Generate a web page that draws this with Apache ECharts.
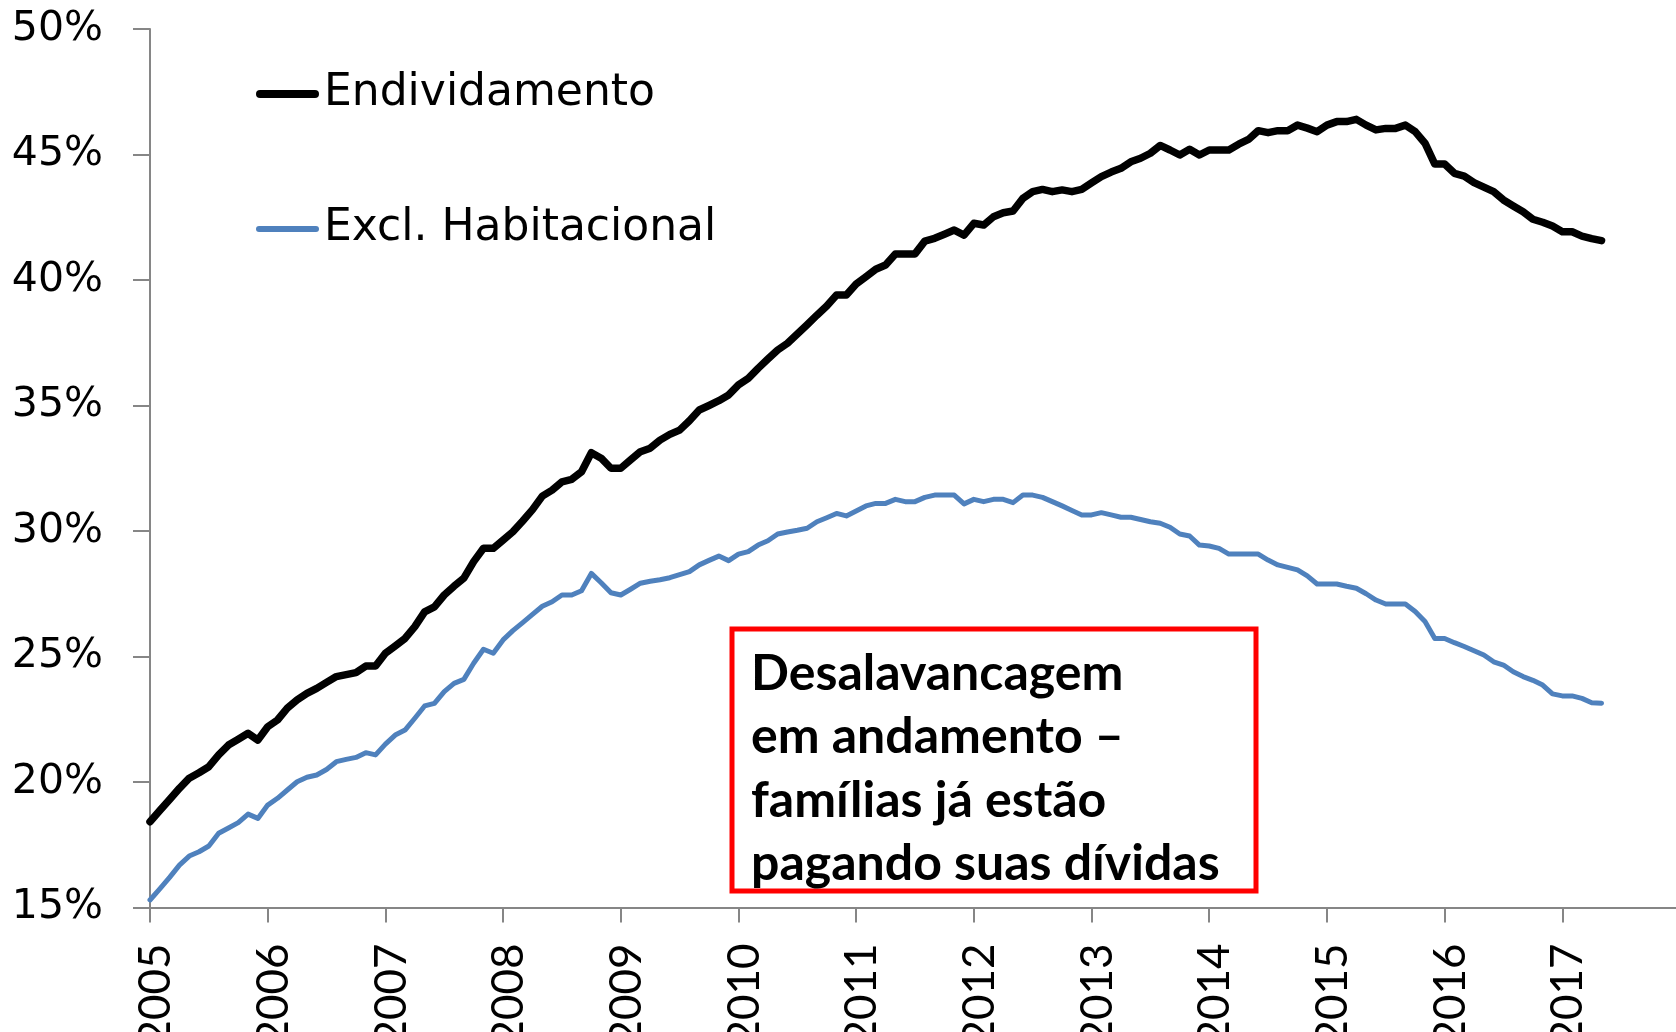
<!DOCTYPE html>
<html><head><meta charset="utf-8">
<script src="https://cdn.jsdelivr.net/npm/echarts@6/dist/echarts.min.js"></script>
<style>html,body{margin:0;padding:0;background:#fff}#c{width:1676px;height:1032px}</style>
</head><body><div id="c"></div>
<script>
// Monthly data, Jan 2005 .. May 2017 (% of household income)
const yearLabels = ['2005','2006','2007','2008','2009','2010','2011','2012','2013','2014','2015','2016','2017'];
const seriesNames = ['Endividamento', 'Excl. Habitacional'];
const endividamento = [
 18.42,18.86,19.30,19.75,20.15,20.37,20.61,21.08,21.47,21.70,21.94,21.67,
 22.20,22.47,22.94,23.27,23.53,23.73,23.97,24.20,24.28,24.36,24.62,24.62,
 25.13,25.42,25.72,26.19,26.78,26.98,27.45,27.80,28.12,28.78,29.31,29.31,
 29.64,29.97,30.40,30.85,31.39,31.63,31.96,32.06,32.36,33.12,32.90,32.50,
 32.50,32.83,33.16,33.30,33.62,33.85,34.02,34.39,34.82,35.00,35.19,35.42,
 35.82,36.08,36.48,36.85,37.21,37.48,37.85,38.22,38.60,38.96,39.40,39.40,
 39.84,40.13,40.43,40.60,41.04,41.04,41.04,41.55,41.66,41.82,41.99,41.79,
 42.26,42.19,42.52,42.68,42.75,43.25,43.52,43.61,43.52,43.59,43.52,43.61,
 43.87,44.12,44.30,44.45,44.71,44.85,45.05,45.36,45.18,44.98,45.21,44.98,
 45.18,45.18,45.18,45.41,45.60,45.95,45.87,45.95,45.95,46.17,46.05,45.91,
 46.17,46.31,46.31,46.40,46.17,45.98,46.04,46.04,46.17,45.91,45.45,44.62,
 44.62,44.25,44.14,43.88,43.70,43.52,43.19,42.95,42.72,42.42,42.30,42.15,
 41.92,41.92,41.75,41.65,41.57
];
const exclHabitacional = [
 15.30,15.74,16.20,16.69,17.05,17.22,17.45,17.96,18.17,18.38,18.72,18.55,
 19.08,19.35,19.68,20.01,20.19,20.28,20.50,20.81,20.90,20.98,21.17,21.08,
 21.51,21.87,22.07,22.54,23.03,23.13,23.60,23.93,24.09,24.73,25.29,25.13,
 25.66,26.03,26.35,26.68,27.00,27.18,27.45,27.45,27.62,28.31,27.94,27.54,
 27.45,27.68,27.92,28.00,28.06,28.14,28.26,28.38,28.65,28.83,29.00,28.82,
 29.08,29.18,29.44,29.61,29.88,29.96,30.03,30.11,30.37,30.53,30.70,30.60,
 30.80,31.00,31.10,31.10,31.26,31.17,31.17,31.34,31.43,31.43,31.43,31.08,
 31.26,31.17,31.26,31.26,31.13,31.43,31.43,31.34,31.17,31.00,30.82,30.64,
 30.64,30.73,30.64,30.55,30.55,30.46,30.37,30.31,30.15,29.88,29.80,29.44,
 29.40,29.31,29.08,29.08,29.08,29.08,28.84,28.65,28.55,28.45,28.21,27.89,
 27.89,27.89,27.80,27.72,27.50,27.25,27.09,27.09,27.09,26.79,26.39,25.72,
 25.72,25.55,25.40,25.23,25.06,24.79,24.66,24.39,24.20,24.05,23.86,23.51,
 23.43,23.43,23.33,23.16,23.14
];
const annotationLines = ['Desalavancagem', 'em andamento –', 'famílias já estão', 'pagando suas dívidas'];

const axisGray = '#868686';
const pillIconThick = 'path://M4,0 H59 A4,4 0 0 1 59,8 H4 A4,4 0 0 1 4,0 Z';
const pillIconThin = 'path://M3,0 H60 A3,3 0 0 1 60,6 H3 A3,3 0 0 1 3,0 Z';
const chart = echarts.init(document.getElementById('c'), null, {renderer: 'canvas'});
chart.setOption({
  animation: false,
  backgroundColor: '#ffffff',
  grid: {left: 150, right: -4, top: 29, bottom: 124.5, containLabel: false, outerBoundsMode: 'none'},
  xAxis: {
    type: 'value', min: 0, max: 156, interval: 12,
    axisLine: {show: true, lineStyle: {color: axisGray, width: 2}},
    axisTick: {show: true, length: 15, lineStyle: {color: axisGray, width: 2}},
    splitLine: {show: false},
    axisLabel: {
      rotate: 90, margin: 36, color: '#000', fontFamily: 'Lato', fontSize: 44,
      verticalAlign: 'top', lineHeight: 12,
      formatter: v => yearLabels[Math.round(v / 12)] || ''
    }
  },
  yAxis: {
    type: 'value', min: 15, max: 50, interval: 5,
    axisLine: {show: true, lineStyle: {color: axisGray, width: 2}},
    axisTick: {show: true, length: 17, lineStyle: {color: axisGray, width: 2}},
    splitLine: {show: false},
    axisLabel: {margin: 47, color: '#000', fontFamily: "'DejaVu Sans'", fontSize: 41, formatter: '{value}%'}
  },
  legend: [
    {data: [{name: seriesNames[0], icon: pillIconThick}], left: 256, top: 65, padding: 0,
     itemWidth: 63, itemHeight: 8, itemStyle: {color: '#000000'},
     textStyle: {fontFamily: "'DejaVu Sans'", fontSize: 44, color: '#000', lineHeight: 58}},
    {data: [{name: seriesNames[1], icon: pillIconThin}], left: 256, top: 200, padding: 0,
     itemWidth: 63, itemHeight: 6, itemStyle: {color: '#4F81BD'},
     textStyle: {fontFamily: "'DejaVu Sans'", fontSize: 44, color: '#000', lineHeight: 58}}
  ],
  series: [
    {name: seriesNames[0], type: 'line', symbol: 'none', showSymbol: false,
     data: endividamento.map((v, i) => [i, v]),
     itemStyle: {color: '#000000'},
     lineStyle: {color: '#000000', width: 7.5, cap: 'round', join: 'round'}, z: 3},
    {name: seriesNames[1], type: 'line', symbol: 'none', showSymbol: false,
     data: exclHabitacional.map((v, i) => [i, v]),
     itemStyle: {color: '#4F81BD'},
     lineStyle: {color: '#4F81BD', width: 5, cap: 'round', join: 'round'}, z: 2}
  ],
  graphic: [
    {type: 'rect', shape: {x: 732, y: 629, width: 524, height: 262},
     style: {fill: null, stroke: '#FF0000', lineWidth: 5}, z: 10},
    {type: 'text', x: 751, y: 642, z: 11,
     style: {text: annotationLines.join('\n'), fontFamily: 'Lato', fontWeight: 'bold',
             fontSize: 50, lineHeight: 63.5, fill: '#000', verticalAlign: 'top', align: 'left'}}
  ]
});
</script>
</body></html>
